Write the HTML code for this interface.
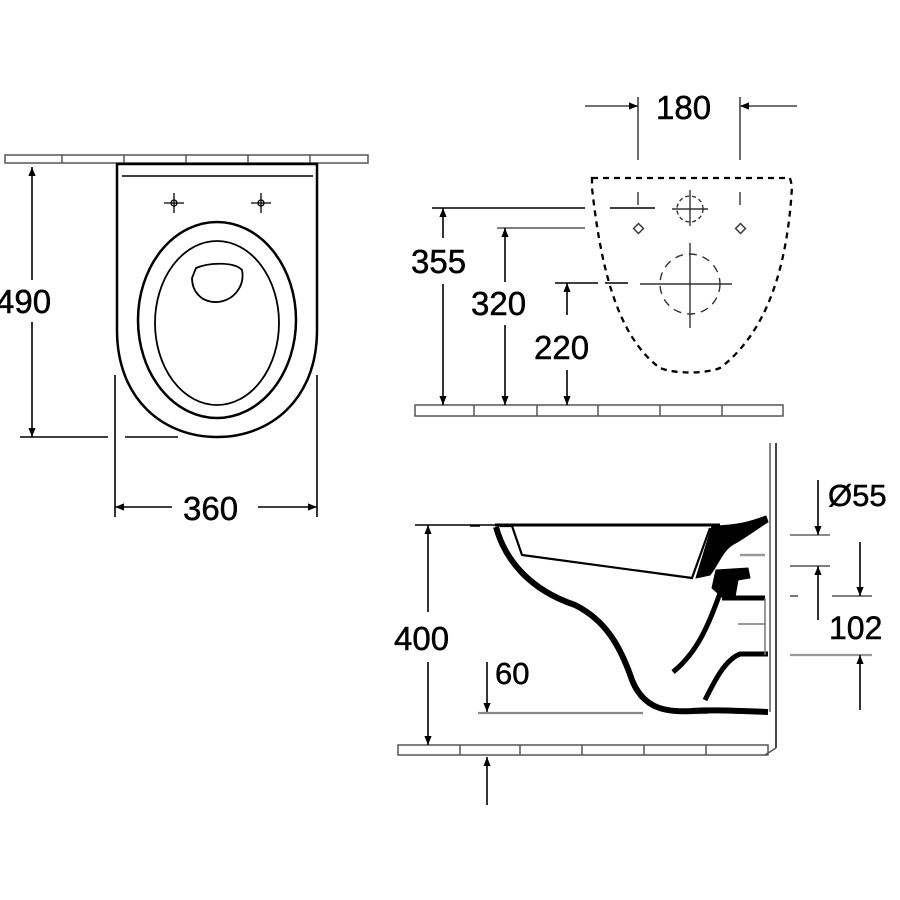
<!DOCTYPE html>
<html><head><style>html,body{margin:0;padding:0;background:#fff;}svg{display:block}text{font-family:"Liberation Sans",sans-serif;fill:#000;stroke:#000;stroke-width:0.5}</style></head>
<body>
<svg width="900" height="900" viewBox="0 0 900 900" xmlns="http://www.w3.org/2000/svg">
<defs>
<marker id="a" viewBox="0 0 10 10" refX="10" refY="5" markerWidth="9" markerHeight="10" orient="auto-start-reverse" markerUnits="userSpaceOnUse"><path d="M0,1 L10,5 L0,9 z" fill="#000"/></marker>
</defs>
<g fill="none" stroke="#000">
<!-- TOP VIEW -->
<rect x="5" y="155" width="363" height="8" stroke="#555" stroke-width="1.5"/>
<g stroke="#555" stroke-width="1.5"><line x1="62" y1="155" x2="62" y2="163"/><line x1="124" y1="155" x2="124" y2="163"/><line x1="186" y1="155" x2="186" y2="163"/><line x1="248" y1="155" x2="248" y2="163"/><line x1="310" y1="155" x2="310" y2="163"/></g>
<path d="M117,164 L317,164 L317,330 C317,400 270,437 217,437 C164,437 117,400 117,330 Z" stroke-width="2.5"/>
<line x1="122" y1="176" x2="313" y2="176" stroke-width="1.5"/>
<ellipse cx="217" cy="320" rx="79" ry="98" stroke-width="2.5"/>
<ellipse cx="217" cy="323" rx="62" ry="82" stroke-width="1.8"/>
<path d="M196,268 C210,262 235,262 242,270 C245,285 235,300 218,302 C200,303 192,290 192,278 Z" stroke-width="1.8"/>
<g stroke-width="1.3"><circle cx="174" cy="203" r="3"/><line x1="164" y1="203" x2="184" y2="203"/><line x1="174" y1="193" x2="174" y2="213"/><circle cx="261" cy="203" r="3"/><line x1="251" y1="203" x2="271" y2="203"/><line x1="261" y1="193" x2="261" y2="213"/></g>
<line x1="32" y1="167" x2="32" y2="280" stroke-width="1.6" marker-start="url(#a)"/>
<line x1="32" y1="322" x2="32" y2="437" stroke-width="1.6" marker-end="url(#a)"/>
<line x1="20" y1="437" x2="108" y2="437" stroke-width="1.6"/><line x1="125" y1="437" x2="178" y2="437" stroke-width="1.6"/>
<line x1="115" y1="375" x2="115" y2="517" stroke-width="1.6"/><line x1="317" y1="375" x2="317" y2="517" stroke-width="1.6"/>
<line x1="115" y1="507" x2="172" y2="507" stroke-width="1.6" marker-start="url(#a)"/>
<line x1="258" y1="507" x2="317" y2="507" stroke-width="1.6" marker-end="url(#a)"/>

<!-- BACK VIEW -->
<rect x="415" y="405" width="368" height="11" stroke="#555" stroke-width="1.5"/>
<g stroke="#555" stroke-width="1.5"><line x1="474" y1="405" x2="474" y2="416"/><line x1="537" y1="405" x2="537" y2="416"/><line x1="598" y1="405" x2="598" y2="416"/><line x1="660" y1="405" x2="660" y2="416"/><line x1="722" y1="405" x2="722" y2="416"/></g>
<path d="M592,178 L790,178 L792,186 C788,260 770,330 720,368 C705,374 675,374 660,368 C615,335 600,260 592,188 Z" stroke-width="2.3" stroke-dasharray="6,5"/>
<line x1="638" y1="97" x2="638" y2="160" stroke-width="1.6" stroke="#444"/><line x1="740" y1="97" x2="740" y2="160" stroke-width="1.6" stroke="#444"/>
<line x1="585" y1="106" x2="638" y2="106" stroke-width="1.6" stroke="#444" marker-end="url(#a)"/>
<line x1="797" y1="106" x2="740" y2="106" stroke-width="1.6" stroke="#444" marker-end="url(#a)"/>
<g stroke-width="1.4" stroke="#333">
<line x1="638" y1="192" x2="638" y2="205"/><line x1="740" y1="192" x2="740" y2="205"/>
<rect x="635" y="225" width="7" height="7" transform="rotate(45 638.5 228.5)"/><rect x="737" y="225" width="7" height="7" transform="rotate(45 740.5 228.5)"/>
<circle cx="690" cy="209" r="13" stroke-dasharray="4,3"/><line x1="672" y1="209" x2="708" y2="209"/><line x1="690" y1="190" x2="690" y2="226"/>
<circle cx="690" cy="284" r="30" stroke-dasharray="8,6"/><line x1="640" y1="284" x2="732" y2="284"/><line x1="690" y1="243" x2="690" y2="328"/>
</g>
<line x1="432" y1="208" x2="585" y2="208" stroke-width="1.6"/><line x1="610" y1="208" x2="655" y2="208" stroke-width="1.6"/>
<line x1="497" y1="228" x2="585" y2="228" stroke-width="1.6" stroke="#555"/>
<line x1="555" y1="283" x2="598" y2="283" stroke-width="1.6"/><line x1="605" y1="283" x2="628" y2="283" stroke-width="1.6"/>
<line x1="443" y1="208" x2="443" y2="238" stroke-width="1.6" marker-start="url(#a)"/>
<line x1="443" y1="284" x2="443" y2="405" stroke-width="1.6" marker-end="url(#a)"/>
<line x1="505" y1="228" x2="505" y2="282" stroke-width="1.6" marker-start="url(#a)"/>
<line x1="505" y1="325" x2="505" y2="405" stroke-width="1.6" marker-end="url(#a)"/>
<line x1="567" y1="283" x2="567" y2="315" stroke-width="1.6" marker-start="url(#a)"/>
<line x1="567" y1="370" x2="567" y2="405" stroke-width="1.6" marker-end="url(#a)"/>

<!-- SIDE VIEW -->
<line x1="770" y1="443" x2="770" y2="712" stroke-width="1.8" stroke="#777"/>
<line x1="776" y1="443" x2="776" y2="748" stroke-width="1.8" stroke="#333"/>
<line x1="776" y1="748" x2="765" y2="755" stroke-width="1.5" stroke="#555"/>
<rect x="398" y="745" width="370" height="10" stroke="#555" stroke-width="1.5"/>
<g stroke="#555" stroke-width="1.5"><line x1="460" y1="745" x2="460" y2="755"/><line x1="520" y1="745" x2="520" y2="755"/><line x1="582" y1="745" x2="582" y2="755"/><line x1="644" y1="745" x2="644" y2="755"/><line x1="706" y1="745" x2="706" y2="755"/></g>
<line x1="415" y1="525" x2="500" y2="525" stroke-width="1.6"/>
<line x1="428" y1="525" x2="428" y2="612" stroke-width="1.6" marker-start="url(#a)"/>
<line x1="428" y1="662" x2="428" y2="745" stroke-width="1.6" marker-end="url(#a)"/>
<line x1="487" y1="662" x2="487" y2="712" stroke-width="1.6" marker-end="url(#a)"/>
<line x1="478" y1="713" x2="643" y2="713" stroke-width="2.2" stroke="#888"/>
<line x1="690" y1="713" x2="708" y2="713" stroke-width="2.2" stroke="#888"/>
<line x1="487" y1="805" x2="487" y2="757" stroke-width="1.6" marker-end="url(#a)"/>
<!-- bowl -->
<path d="M496,527 C505,560 530,590 575,605 C605,620 620,645 632,680 C642,705 660,713 692,711 C705,710 720,710 768,712" stroke-width="6"/>
<path d="M500,526 L512,526 L522,555 L692,578 L710,528" stroke-width="2.2"/>
<path d="M495,525 L720,525" stroke-width="3"/>
<path d="M712,526 C740,526 755,520 766,516 L768,522 C755,530 745,538 732,545 C722,552 718,565 710,575 L696,578 Z" fill="#000" stroke-width="1"/>
<path d="M716,570 L748,568 L750,578 L738,580 L735,597 L722,597 L712,588 Z" fill="#000" stroke-width="1"/>
<path d="M722,588 C710,620 700,650 673,672" stroke-width="5"/>
<line x1="722" y1="598" x2="765" y2="598" stroke-width="5"/>
<path d="M705,700 C715,680 725,660 740,654 L768,654" stroke-width="5"/>
<line x1="740" y1="555" x2="765" y2="555" stroke-width="2.5" stroke="#999"/>
<line x1="738" y1="624" x2="765" y2="624" stroke-width="1.5" stroke="#777"/>
<line x1="765" y1="598" x2="765" y2="655" stroke-width="1.5" stroke="#777"/>
<line x1="470" y1="526" x2="480" y2="526" stroke-width="1.5"/>
<!-- right dims -->
<line x1="790" y1="535" x2="830" y2="535" stroke-width="1.8" stroke="#777"/>
<line x1="790" y1="566" x2="830" y2="566" stroke-width="1.6" stroke="#555"/>
<line x1="790" y1="596" x2="798" y2="596" stroke-width="1.6" stroke="#555"/>
<line x1="832" y1="596" x2="872" y2="596" stroke-width="1.6" stroke="#555"/>
<line x1="790" y1="655" x2="872" y2="655" stroke-width="2.2" stroke="#999"/>
<line x1="818" y1="480" x2="818" y2="535" stroke-width="1.6" marker-end="url(#a)"/>
<line x1="818" y1="620" x2="818" y2="566" stroke-width="1.6" marker-end="url(#a)"/>
<line x1="860" y1="542" x2="860" y2="596" stroke-width="1.6" marker-end="url(#a)"/>
<line x1="860" y1="710" x2="860" y2="655" stroke-width="1.6" marker-end="url(#a)"/>
</g>
<g font-size="33">
<text x="-4" y="313">490</text>
<text x="183" y="520">360</text>
<text x="656" y="119">180</text>
<text x="411" y="273">355</text>
<text x="471" y="315">320</text>
<text x="534" y="359">220</text>
<text x="394" y="650">400</text>
<text x="495" y="684" font-size="31">60</text>
<text x="828" y="506" font-size="31">Ø55</text>
<text x="829" y="639" font-size="32">102</text>
</g>
</svg>
</body></html>
